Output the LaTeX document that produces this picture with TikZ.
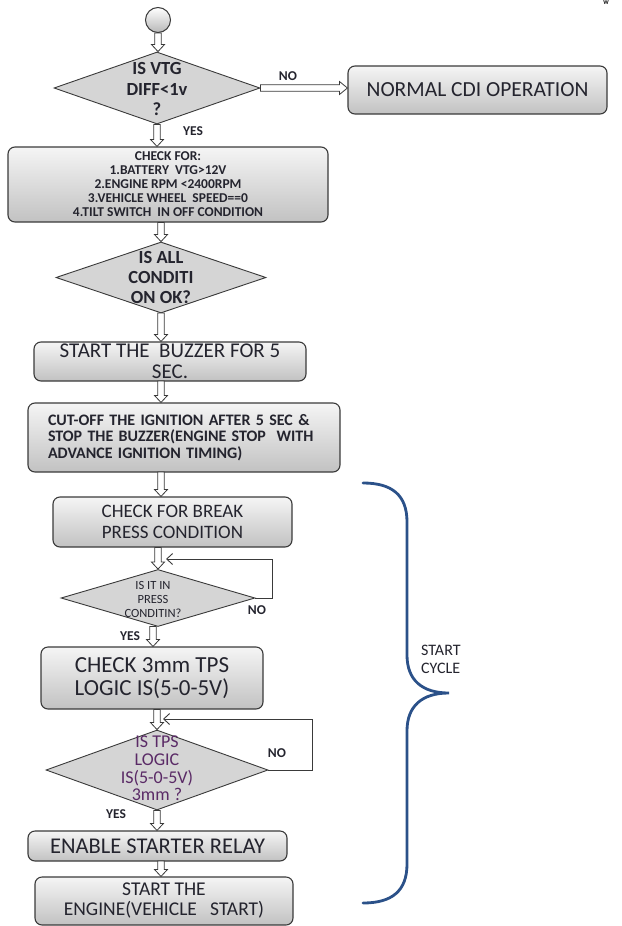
\documentclass[tikz,border=0pt]{standalone}
\usepackage{fontspec}
\setmainfont{Carlito}
\usetikzlibrary{shapes.geometric,arrows.meta,calc}
\definecolor{txt}{HTML}{24242E}
\definecolor{ptxt}{HTML}{5A2A66}
\definecolor{edge}{HTML}{3A3A3A}
\definecolor{bracec}{HTML}{2B5189}
\definecolor{dfill}{HTML}{D5D5D5}
\newcommand{\fsz}[2]{\fontsize{#1}{#2}\selectfont}
\begin{document}
\begin{tikzpicture}[x=1pt,y=-1pt,
  box/.style={draw=edge, line width=1.1pt, rounded corners=7pt, top color=white!96!black,
    bottom color=black!24, text=txt, align=center, inner sep=0pt},
  dia/.style={diamond, draw=edge, line width=0.9pt, fill=dfill, inner sep=0pt},
  dtext/.style={text=txt, align=center, inner sep=0pt},
  lab/.style={text=txt, font=\bfseries\fsz{13.5}{13.5}, inner sep=0pt},
  harrow/.style={draw=edge, fill=white, line width=0.8pt,
    to path={let \p1=(\tikztostart), \p2=(\tikztotarget) in
      ({\x1-3.2pt},\y1) -- ({\x1-3.2pt},{\y2+7pt}) -- ({\x1-6.5pt},{\y2+7pt}) -- (\x1,\y2)
      -- ({\x1+6.5pt},{\y2+7pt}) -- ({\x1+3.2pt},{\y2+7pt}) -- ({\x1+3.2pt},\y1) -- cycle}},
  harrowr/.style={draw=edge, fill=white, line width=0.8pt,
    to path={let \p1=(\tikztostart), \p2=(\tikztotarget) in
      (\x1,{\y1+3.2pt}) -- ({\x2-8pt},{\y1+3.2pt}) -- ({\x2-8pt},{\y1+6.5pt}) -- (\x2,\y1)
      -- ({\x2-8pt},{\y1-6.5pt}) -- ({\x2-8pt},{\y1-3.2pt}) -- (\x1,{\y1-3.2pt}) -- cycle}},
  loopline/.style={draw=edge, line width=1pt, -{Straight Barb[length=6pt,width=11pt,line width=0.9pt]}}
]
\useasboundingbox (0,0) rectangle (621,926);

% fragment of text at top right
\node[anchor=north, font=\bfseries\fsz{6}{6}, text=black, inner sep=0pt] (wfrag) at (606,0.5) {W};

% start
\node[circle, draw=edge, line width=1pt, minimum size=25pt, inner sep=0pt,
  top color=white, bottom color=black!28] (start) at (158,20) {};

% decision 1
\node[dia, minimum width=206pt, minimum height=72pt] (d1) at (157,88) {};
\node[dtext, font=\bfseries\fsz{18.5}{20.5}] (d1t) at (157,89) {IS VTG\\DIFF<1v\\?};

\node[box, minimum width=259pt, minimum height=48pt, font=\fsz{21.5}{22}] (normal) at (477.5,90) {NORMAL CDI OPERATION};

\node[box, minimum width=320pt, minimum height=75pt, font=\bfseries\fsz{13.5}{14}] (check) at (168,184.5)
 {CHECK FOR:\\1.BATTERY \ VTG>12V\\2.ENGINE RPM <2400RPM\\3.VEHICLE WHEEL \ SPEED==0\\4.TILT SWITCH \ IN OFF CONDITION};

\node[dia, minimum width=210pt, minimum height=71pt] (d2) at (161,277.5) {};
\node[dtext, font=\bfseries\fsz{18.5}{20}] (d2t) at (161,277) {IS ALL\\CONDITI\\ON OK?};

\node[box, minimum width=272pt, minimum height=39pt, font=\fsz{21}{21.5}] (buzz) at (170,361.5)
 {START THE \ BUZZER FOR 5\\SEC.};

\node[box, minimum width=312pt, minimum height=69pt, font=\bfseries\fsz{16}{16.8}, text width=272pt, align=left] (cut) at (184,437.5)
 {CUT-OFF THE IGNITION AFTER 5 SEC \&\\STOP THE BUZZER(ENGINE STOP \ WITH\\ADVANCE IGNITION TIMING)};

\node[box, minimum width=239pt, minimum height=50pt, font=\fsz{19}{21}] (brk) at (172.5,522)
 {CHECK FOR BREAK\\PRESS CONDITION};

\node[dia, minimum width=194pt, minimum height=57pt] (d3) at (158,598) {};
\node[dtext, font=\fsz{12.5}{14}] (d3t) at (153,599) {IS IT IN\\PRESS\\CONDITIN?};

\node[box, minimum width=222pt, minimum height=62pt, font=\fsz{23}{23}] (tps) at (152,678)
 {CHECK 3mm TPS\\LOGIC IS(5-0-5V)};

\node[dia, minimum width=222pt, minimum height=80pt] (d4) at (157,770) {};
\node[dtext, text=ptxt, font=\fsz{18}{17.7}] (d4t) at (157,768.5) {IS TPS\\LOGIC\\IS(5-0-5V)\\3mm ?};

\node[box, minimum width=259pt, minimum height=30pt, font=\fsz{22.5}{22}] (relay) at (157.5,846) {ENABLE STARTER RELAY};

\node[box, minimum width=258pt, minimum height=48pt, font=\fsz{19.5}{20}] (engine) at (164,901)
 {START THE\\ENGINE(VEHICLE \ \ START)};

% connectors
\coordinate (c0) at (161,313);
\coordinate (c1) at (161,381);
\coordinate (c2) at (161,472);
\coordinate (c3) at (153,626.5);
\coordinate (c4) at (161,861);
\path[harrow] (start.south) to (d1.north);
\path[harrowr] (d1.east) to (normal.west);
\path[harrow] (d1.south) to (d1.south |- check.north);
\path[harrow] (d2.north |- check.south) to (d2.north);
\path[harrow] (c0) to (c0 |- buzz.north);
\path[harrow] (c1) to (c1 |- cut.north);
\path[harrow] (c2) to (c2 |- brk.north);
\path[harrow] (d3.north |- brk.south) to (d3.north);
\path[harrow] (c3) to (c3 |- tps.north);
\path[harrow] (d4.north |- tps.south) to (d4.north);
\path[harrow] (d4.south) to (d4.south |- relay.north);
\path[harrow] (c4) to (c4 |- engine.north);

\coordinate (l3) at (166,559);
\draw[loopline] (d3.east) -- ++(17,0) |- (l3);
\coordinate (l4) at (163,719);
\draw[loopline] (d4.east) -- ++(44,0) |- (l4);

% labels
\node[lab] (no1) at (288,76) {NO};
\node[lab] (yes1) at (193,131) {YES};
\node[lab] (no3) at (257,610) {NO};
\node[lab] (yes3) at (130,636) {YES};
\node[lab] (no4) at (277,753) {NO};
\node[lab] (yes4) at (116,814) {YES};

% brace
\draw[bracec, line width=2.8pt, line cap=round]
  (363,483) .. controls (392,483) and (407,495) .. (407,522) -- (407,655)
  .. controls (407,680) and (422,693) .. (449,693)
  .. controls (422,693) and (407,706) .. (407,731) -- (407,864)
  .. controls (407,891) and (392,903) .. (363,903);
\node[anchor=west, align=left, text=txt, font=\fsz{16}{18}, inner sep=0pt] (cycle) at (421,659) {START\\CYCLE};
\end{tikzpicture}
\end{document}
